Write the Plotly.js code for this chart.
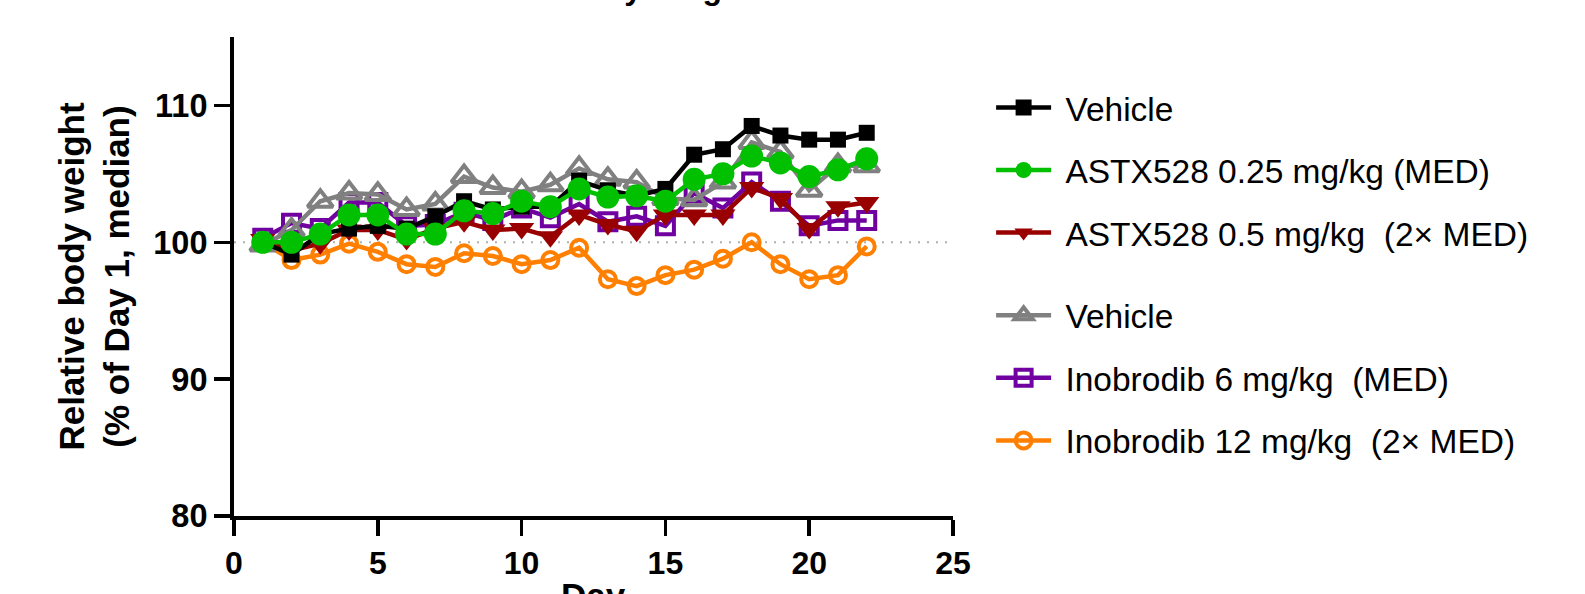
<!DOCTYPE html>
<html>
<head>
<meta charset="utf-8">
<script src="https://cdn.plot.ly/plotly-3.0.1.min.js"></script>
<style>html,body{margin:0;padding:0;background:#fff;}#chart{width:1585px;height:594px;}</style>
</head>
<body>
<div id="chart"></div>
<script>
// ---- data ----
const days = [1,2,3,4,5,6,7,8,9,10,11,12,13,14,15,16,17,18,19,20,21,22];
const seriesNames = [
  "Vehicle",
  "ASTX528 0.25 mg/kg (MED)",
  "ASTX528 0.5 mg/kg  (2× MED)",
  "Vehicle",
  "Inobrodib 6 mg/kg  (MED)",
  "Inobrodib 12 mg/kg  (2× MED)"
];
const vehicleA = [100.0,99.1,100.6,101.0,101.2,101.0,101.9,103.0,102.4,102.6,102.6,104.5,103.8,103.4,103.9,106.4,106.8,108.5,107.8,107.5,107.5,108.0];
const astx025  = [100.0,100.0,100.6,102.0,102.0,100.6,100.6,102.3,102.1,103.0,102.6,103.9,103.3,103.4,103.0,104.6,105.0,106.3,105.8,104.8,105.3,106.1];
const astx05   = [100.2,99.4,99.9,100.9,100.9,100.2,101.0,101.5,100.9,101.0,100.4,102.0,101.3,100.8,102.0,102.0,102.0,104.0,103.2,101.0,102.6,102.9];
const vehicleB = [99.8,100.9,103.0,103.6,103.5,102.4,102.8,104.8,104.0,103.7,104.2,105.4,104.6,104.4,103.2,103.1,104.4,107.3,106.6,103.8,105.6,105.6];
const inob6    = [100.3,101.4,101.0,102.9,102.9,101.2,101.3,102.2,101.6,102.5,101.8,102.8,101.5,101.9,101.2,103.6,102.5,104.4,103.0,101.2,101.6,101.6];
const inob12   = [100.0,98.7,99.1,99.9,99.3,98.4,98.2,99.2,99.0,98.4,98.7,99.6,97.3,96.8,97.6,98.0,98.8,100.0,98.4,97.3,97.6,99.7];
const xTicks = [0,5,10,15,20,25];
const yTicks = [80,90,100,110];
const refValue = 100;

const FONT = "Arial, 'Liberation Sans', sans-serif";

function tr(y, name, color, symbol, size, legend, rank, filled) {
  return {
    x: days, y: y, name: '\u00a0' + name, type: 'scatter', mode: 'lines+markers',
    line: {color: color, width: 4.5},
    marker: filled
      ? {symbol: symbol, size: size, color: color, line: {width: 0}}
      : {symbol: symbol, size: size, color: color, line: {color: color, width: 4}},
    legend: legend, legendgroup: 'g' + legend + rank, legendrank: rank,
    hoverinfo: 'x+y+name'
  };
}

const data = [
  tr(inob12,  seriesNames[5], '#ff8000', 'circle-open',      16, 'legend2', 3, false),
  tr(inob6,   seriesNames[4], '#7000a0', 'square-open',      17, 'legend2', 2, false),
  tr(vehicleB,seriesNames[3], '#808080', 'triangle-up-open', 22, 'legend2', 1, false),
  tr(astx05,  seriesNames[2], '#990000', 'triangle-down',    22, 'legend', 3, true),
  tr(vehicleA,seriesNames[0], '#000000', 'square',           16, 'legend', 1, true),
  tr(astx025, seriesNames[1], '#00c000', 'circle',           23, 'legend', 2, true)
];

const legendCommon = {
  font: {family: FONT, size: 33.5, color: '#000'},
  traceorder: 'grouped', tracegroupgap: 16,
  itemwidth: 55, bgcolor: 'rgba(0,0,0,0)', borderwidth: 0,
  xanchor: 'left', yanchor: 'top', x: 1.053
};

const layout = {
  width: 1585, height: 594,
  margin: {l: 234, r: 632, t: 37, b: 78, pad: 0},
  paper_bgcolor: '#fff', plot_bgcolor: '#fff',
  showlegend: true,
  legend: Object.assign({}, legendCommon, {y: 0.912}),
  legend2: Object.assign({}, legendCommon, {y: 0.478}),
  xaxis: {
    range: [0, 25], tickvals: xTicks, ticktext: xTicks.map(String),
    showgrid: false, zeroline: false, showline: true, linecolor: '#000', linewidth: 4,
    ticks: 'outside', ticklen: 16, tickwidth: 3.5, tickcolor: '#000',
    tickfont: {family: FONT, size: 32, color: '#000', weight: 'bold'},
    automargin: false, fixedrange: true
  },
  yaxis: {
    range: [80, 115], tickvals: yTicks, ticktext: yTicks.map(String),
    showgrid: false, zeroline: false, showline: true, linecolor: '#000', linewidth: 4,
    ticks: 'outside', ticklen: 16, tickwidth: 3.5, tickcolor: '#000',
    tickfont: {family: FONT, size: 32.5, color: '#000', weight: 'bold'},
    title: {text: 'Relative body weight<br>(% of Day 1, median)', font: {family: FONT, size: 35, color: '#000', weight: 'bold'}, standoff: 14},
    automargin: false, fixedrange: true
  },
  shapes: [{
    type: 'line', xref: 'x', yref: 'y', x0: xTicks[0], x1: xTicks[xTicks.length-1], y0: refValue, y1: refValue,
    line: {color: '#b0b0b0', width: 2, dash: '2px,7px'}, layer: 'below'
  }],
  annotations: [{
    text: 'Relative body weight', xref: 'paper', yref: 'paper', x: 0.5, y: 1.06,
    xanchor: 'center', yanchor: 'bottom', showarrow: false,
    font: {family: FONT, size: 32, color: '#000', weight: 'bold'}
  }, {
    text: 'Day', xref: 'paper', yref: 'paper', x: 0.5, y: -0.121,
    xanchor: 'center', yanchor: 'top', showarrow: false,
    font: {family: FONT, size: 35, color: '#000', weight: 'bold'}
  }]
};

Plotly.newPlot('chart', data, layout, {displayModeBar: false, staticPlot: true});
</script>
</body>
</html>
